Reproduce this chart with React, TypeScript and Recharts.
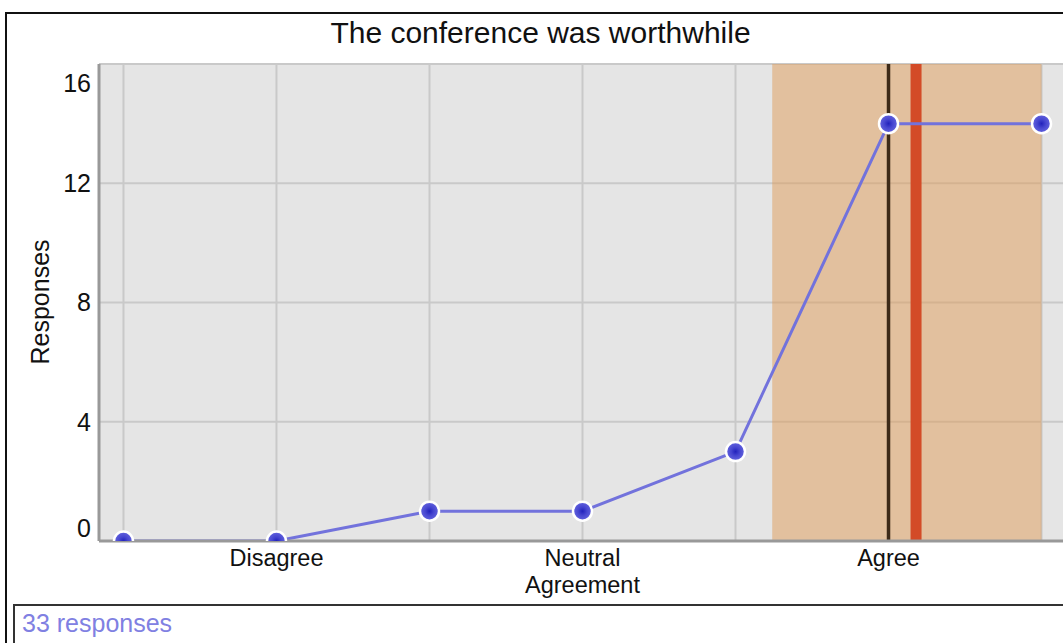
import React from 'react';
import {
  LineChart, Line, XAxis, YAxis, CartesianGrid, ReferenceArea, ReferenceLine,
} from 'recharts';

// 7-point agreement scale, responses per point
const scalePoints = [1, 2, 3, 4, 5, 6, 7];
const scaleLabels = ['', 'Disagree', '', 'Neutral\nAgreement', '', 'Agree', ''];
const responses = [0, 0, 1, 1, 3, 14, 14];
const yTicks = [0, 4, 8, 12, 16];

// summary markers
const meanScore = 6.18;
const medianScore = 6;
const spreadBand = [5.24, 7];
const totalResponses = 33;

const chartTitle = 'The conference was worthwhile';

const data = scalePoints.map((p, i) => ({ point: p, count: responses[i] }));

const FONT = '"Liberation Sans", Arial, Helvetica, sans-serif';
const TEXT = '#111';

function YTick({ x, y, payload }: any) {
  // end labels are nudged inward so they stay inside the plot height
  const dy = payload.value === 16 ? 19 : payload.value === 0 ? -13 : 0;
  return (
    <text x={x} y={y + dy} dy="0.355em" textAnchor="end" fill={TEXT} fontSize={25}>
      {payload.value}
    </text>
  );
}

function XTick({ x, y, payload }: any) {
  const label = scaleLabels[scalePoints.indexOf(payload.value)] ?? '';
  if (!label) return null;
  return (
    <text x={x} y={y} textAnchor="middle" fill={TEXT} fontSize={23.5}>
      {label.split('\n').map((line, i) => (
        <tspan key={i} x={x} dy={i === 0 ? 17 : 27.2}>{line}</tspan>
      ))}
    </text>
  );
}

export default function App() {
  return (
    <div style={{
      position: 'fixed', left: 0, top: 0, width: 1063, height: 643,
      overflow: 'hidden', background: '#fff', fontFamily: FONT,
    }}>
      {/* bottom edge of the previous panel */}
      <div style={{
        position: 'absolute', left: 5, top: -20, width: 1100, height: 20,
        border: '2px solid #111', boxSizing: 'border-box',
      }} />
      {/* panel frame */}
      <div style={{
        position: 'absolute', left: 5, top: 12, width: 1100, height: 700,
        border: '2px solid #111', boxSizing: 'border-box',
      }} />

      <div style={{
        position: 'absolute', left: 5, top: 16, width: 1071, textAlign: 'center',
        fontSize: 30, color: TEXT, whiteSpace: 'nowrap',
      }}>
        {chartTitle}
      </div>

      <div style={{
        position: 'absolute', left: 40, top: 302, fontSize: 25, color: TEXT,
        whiteSpace: 'nowrap', transform: 'translate(-50%, -50%) rotate(-90deg)',
      }}>
        Responses
      </div>

      <div style={{ position: 'absolute', left: 0, top: 0 }}>
        <LineChart
          width={1090}
          height={600}
          data={data}
          margin={{ top: 64, right: 24, bottom: 9, left: 39 }}
          style={{ fontFamily: FONT }}
        >
          <defs>
            <radialGradient id="dotFill" cx="50%" cy="50%" r="50%">
              <stop offset="0%" stopColor="#2222bc" />
              <stop offset="45%" stopColor="#4646d0" />
              <stop offset="100%" stopColor="#6464de" />
            </radialGradient>
          </defs>
          <CartesianGrid fill="#e5e5e5" stroke="#c9c9c9" strokeWidth={2} />
          <XAxis
            dataKey="point"
            type="number"
            domain={[0.84, 7.16]}
            ticks={scalePoints}
            allowDataOverflow
            height={50}
            tickLine={false}
            axisLine={{ stroke: '#999', strokeWidth: 3 }}
            tick={<XTick />}
            interval={0}
          />
          <YAxis
            domain={[0, 16]}
            ticks={yTicks}
            allowDataOverflow
            width={60}
            tickLine={false}
            axisLine={{ stroke: '#999', strokeWidth: 3 }}
            tick={<YTick />}
            interval={0}
          />
          <ReferenceArea
            x1={spreadBand[0]}
            x2={spreadBand[1]}
            fill="#df9b57"
            fillOpacity={0.5}
            stroke="none"
          />
          <ReferenceLine x={medianScore} stroke="#3d2a18" strokeWidth={3.5} />
          <ReferenceLine x={meanScore} stroke="#d34b27" strokeWidth={11} />
          <Line
            dataKey="count"
            type="linear"
            stroke="#7272dc"
            strokeWidth={3}
            dot={{ r: 9.5, fill: 'url(#dotFill)', stroke: '#fff', strokeWidth: 2.5 }}
            activeDot={false}
            isAnimationActive={false}
          />
        </LineChart>
      </div>

      {/* footer with the response count */}
      <div style={{
        position: 'absolute', left: 13, top: 604, width: 1100, height: 60,
        border: '2px solid #333', boxSizing: 'border-box',
      }} />
      <div style={{
        position: 'absolute', left: 22, top: 609, fontSize: 25, color: '#8080e2',
        whiteSpace: 'nowrap',
      }}>
        {totalResponses} responses
      </div>
    </div>
  );
}
